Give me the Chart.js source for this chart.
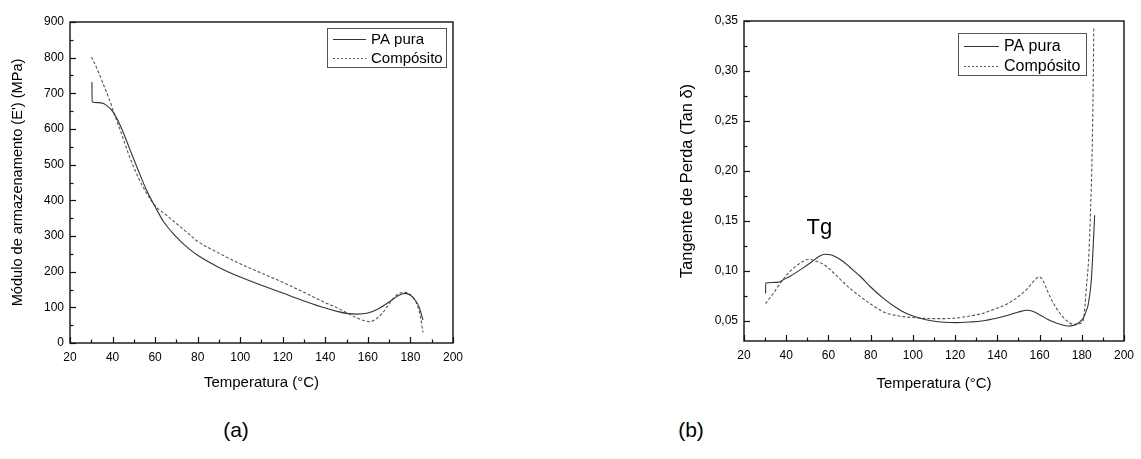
<!DOCTYPE html>
<html>
<head>
<meta charset="utf-8">
<script src="https://cdn.jsdelivr.net/npm/chart.js@4/dist/chart.umd.min.js"></script>
<style>
  html, body { margin: 0; padding: 0; background: #fff; width: 1141px; height: 459px; overflow: hidden; }
  .panel { position: absolute; top: 0; height: 400px; }
  #wrapA { left: 0; width: 470px; }
  #wrapB { left: 670px; width: 471px; }
  .tag { position: absolute; top: 418px; font: 21px "Liberation Sans", Arial, sans-serif; color: #000; transform: translateX(-50%); }
</style>
</head>
<body>
<div class="panel" id="wrapA"><canvas id="chartA" width="470" height="400"></canvas></div>
<div class="panel" id="wrapB"><canvas id="chartB" width="471" height="400"></canvas></div>
<div class="tag" style="left:236px">(a)</div>
<div class="tag" style="left:691px">(b)</div>
<script>
// ---- (a) Storage modulus E' (MPa) vs temperature (°C)
const tempA_pa = [30.3, 30.4, 33, 36, 38, 40.2, 44, 48, 52, 56, 60, 64, 68, 72, 76, 80, 90, 100, 110, 120, 130, 140, 146, 150, 155, 160, 165, 170, 174, 177.5, 180, 182, 184, 185.9];
const modA_pa  = [732, 676, 674, 671, 662, 648, 605, 545, 485, 428, 382, 340, 310, 285, 264, 246, 212, 185, 162, 140, 118, 98, 88, 83, 81, 84, 96, 115, 132, 139, 134, 122, 102, 65];
const tempA_comp = [30.1, 33, 35.5, 38.6, 40.2, 44, 48, 52, 56, 60, 65, 70, 75, 80, 90, 100, 110, 120, 130, 140, 145, 150, 155, 158, 161, 164, 167, 170, 173.5, 177.4, 180, 182.8, 184.5, 185.9];
const modA_comp  = [802, 765, 728, 681, 653, 590, 522, 465, 420, 385, 360, 335, 310, 285, 252, 222, 196, 170, 142, 113, 100, 85, 70, 63, 60, 68, 85, 110, 134, 142, 135, 112, 80, 30];

// ---- (b) Loss tangent (tan δ) vs temperature (°C)
const tempB_pa = [30.2, 30.3, 33, 36.7, 38.2, 42, 47.5, 52, 55.5, 58.3, 61, 64, 67, 70, 75.4, 80, 86.2, 92, 97, 103, 109.5, 115, 120.3, 127, 132.7, 140, 145, 150, 154.3, 157, 160.5, 164, 166.7, 171.3, 173.7, 176, 179.1, 181, 182.2, 183, 184.5, 185.3, 186.1];
const tanB_pa  = [0.0775, 0.088, 0.0885, 0.089, 0.0907, 0.095, 0.1024, 0.109, 0.1145, 0.1168, 0.1162, 0.1135, 0.1095, 0.104, 0.094, 0.084, 0.0724, 0.0635, 0.0574, 0.053, 0.050, 0.0488, 0.0484, 0.049, 0.050, 0.053, 0.0557, 0.059, 0.0607, 0.0595, 0.0557, 0.0515, 0.049, 0.0457, 0.045, 0.0455, 0.049, 0.054, 0.0607, 0.066, 0.09, 0.12, 0.1557];
const tempB_comp = [30.2, 34, 38.2, 43, 47.5, 50.6, 54, 58.4, 62, 66.1, 70, 75.4, 80, 86.2, 92, 97, 103, 109.5, 115, 120.3, 127, 132.7, 140, 145, 150, 154.3, 157.5, 159.8, 161.5, 163.6, 166.5, 169.8, 173, 176, 178.5, 180.7, 181.5, 182.2, 183.2, 184, 184.9, 185.4, 185.7];
const tanB_comp  = [0.0674, 0.078, 0.0907, 0.102, 0.109, 0.1117, 0.110, 0.1057, 0.099, 0.0907, 0.083, 0.074, 0.067, 0.059, 0.0555, 0.054, 0.053, 0.0524, 0.0524, 0.053, 0.055, 0.0574, 0.063, 0.0674, 0.0745, 0.0824, 0.0905, 0.094, 0.091, 0.0807, 0.068, 0.0574, 0.050, 0.0467, 0.047, 0.0507, 0.065, 0.084, 0.11, 0.1507, 0.217, 0.284, 0.344];

// ---- Axis ticks
const xTicks  = [20, 40, 60, 80, 100, 120, 140, 160, 180, 200];
const yTicksA = [0, 100, 200, 300, 400, 500, 600, 700, 800, 900];
const yTicksB = [0.05, 0.10, 0.15, 0.20, 0.25, 0.30, 0.35];

const seriesNames = ['PA pura', 'Compósito'];

Chart.defaults.font.family = '"Liberation Sans", Arial, sans-serif';
Chart.defaults.color = '#000';

const pts = (xs, ys) => xs.map((x, i) => ({ x, y: ys[i] }));
const midpoints = arr => arr.slice(1).map((v, i) => (v + arr[i]) / 2);

// Box around the plot area plus inward major/minor ticks (Origin style)
const framePlugin = {
  id: 'frame',
  afterDraw(chart) {
    const { ctx, chartArea: a, scales } = chart;
    ctx.save();
    ctx.strokeStyle = '#111';
    ctx.lineWidth = 1.4;
    ctx.strokeRect(a.left, a.top, a.right - a.left, a.bottom - a.top);
    ctx.lineWidth = 1.2;
    const drawX = (vals, len) => vals.forEach(v => {
      if (v < scales.x.min || v > scales.x.max) return;
      const px = Math.round(scales.x.getPixelForValue(v)) + 0.5;
      ctx.beginPath(); ctx.moveTo(px, a.bottom); ctx.lineTo(px, a.bottom - len); ctx.stroke();
    });
    const drawY = (vals, len) => vals.forEach(v => {
      if (v < scales.y.min || v > scales.y.max) return;
      const py = Math.round(scales.y.getPixelForValue(v)) + 0.5;
      ctx.beginPath(); ctx.moveTo(a.left, py); ctx.lineTo(a.left + len, py); ctx.stroke();
    });
    const xt = scales.x.ticks.map(t => t.value);
    const yt = scales.y.ticks.map(t => t.value);
    drawX(xt, 6); drawX(midpoints(xt), 3.5);
    drawY(yt, 6); drawY(midpoints(yt), 3.5);
    ctx.restore();
  }
};

// Boxed legend placed inside the plot area, top right
const boxLegendPlugin = {
  id: 'boxLegend',
  afterDraw(chart, args, opts) {
    const { ctx, chartArea: a } = chart;
    const x = a.right - opts.right - opts.width;
    const y = a.top + opts.top;
    ctx.save();
    ctx.strokeStyle = '#555';
    ctx.lineWidth = 1;
    ctx.strokeRect(Math.round(x) + 0.5, Math.round(y) + 0.5, opts.width, opts.height);
    ctx.font = opts.fontSize + 'px "Liberation Sans", Arial, sans-serif';
    ctx.textBaseline = 'middle';
    ctx.fillStyle = '#000';
    chart.data.datasets.forEach((ds, i) => {
      const cy = Math.round(y + opts.firstRow + i * opts.rowGap) + 0.5;
      ctx.strokeStyle = ds.borderColor;
      ctx.lineWidth = 1;
      ctx.setLineDash(i === 0 ? [] : [2, 2]);
      ctx.beginPath();
      ctx.moveTo(x + opts.lineStart, cy);
      ctx.lineTo(x + opts.lineStart + opts.lineLen, cy);
      ctx.stroke();
      ctx.setLineDash([]);
      ctx.fillText(ds.label, x + opts.textStart, cy);
    });
    ctx.restore();
  }
};

// Text annotation anchored at a data coordinate
const notePlugin = {
  id: 'note',
  afterDraw(chart, args, opts) {
    if (!opts.text) return;
    const { ctx, scales } = chart;
    ctx.save();
    ctx.font = opts.fontSize + 'px "Liberation Sans", Arial, sans-serif';
    ctx.fillStyle = '#000';
    ctx.textAlign = 'center';
    ctx.textBaseline = 'alphabetic';
    ctx.fillText(opts.text, scales.x.getPixelForValue(opts.x), scales.y.getPixelForValue(opts.y));
    ctx.restore();
  }
};

function makeChart(id, cfg) {
  const lineStyle = (dash) => ({
    showLine: true, pointRadius: 0, borderWidth: 1.1, fill: false,
    cubicInterpolationMode: 'monotone', borderDash: dash
  });
  return new Chart(document.getElementById(id), {
    type: 'scatter',
    data: {
      datasets: [
        Object.assign({ label: seriesNames[0], data: cfg.pa, borderColor: '#333' }, lineStyle([])),
        Object.assign({ label: seriesNames[1], data: cfg.comp, borderColor: '#555' }, lineStyle([3, 2]))
      ]
    },
    options: {
      responsive: false,
      animation: false,
      layout: { autoPadding: false, padding: cfg.padding },
      plugins: {
        legend: { display: false },
        tooltip: { enabled: false },
        boxLegend: cfg.legend,
        note: cfg.note || {}
      },
      scales: {
        x: {
          type: 'linear', min: 20, max: 200,
          afterBuildTicks: s => { s.ticks = xTicks.map(v => ({ value: v })); },
          afterFit: s => { s.height = cfg.xHeight; },
          grid: { display: false, drawTicks: false },
          border: { display: false },
          ticks: { padding: 7, font: { size: 12 }, maxRotation: 0, autoSkip: false },
          title: { display: true, text: 'Temperatura (°C)', font: { size: 15 }, padding: { top: 0, bottom: cfg.xTitlePad } }
        },
        y: {
          type: 'linear', min: cfg.yMin, max: cfg.yMax,
          afterBuildTicks: s => { s.ticks = cfg.yTicks.map(v => ({ value: v })); },
          afterFit: s => { s.width = cfg.yWidth; },
          grid: { display: false, drawTicks: false },
          border: { display: false },
          ticks: { padding: 6, font: { size: 12 }, autoSkip: false, callback: cfg.yFormat },
          title: { display: true, text: cfg.yTitle, font: { size: cfg.yTitleSize }, padding: { top: cfg.yTitlePad, bottom: 0 } }
        }
      }
    },
    plugins: [framePlugin, boxLegendPlugin, notePlugin]
  });
}

makeChart('chartA', {
  pa: pts(tempA_pa, modA_pa),
  comp: pts(tempA_comp, modA_comp),
  padding: { left: 0, right: 13, top: 22, bottom: 0 },
  xHeight: 57, yWidth: 70, xTitlePad: 8, yTitlePad: 9.3, yTitleSize: 14.6,
  yMin: 0, yMax: 900, yTicks: yTicksA,
  yFormat: v => String(v),
  yTitle: "Módulo de armazenamento (E') (MPa)",
  legend: { right: 7, top: 6, width: 119, height: 39, fontSize: 15, firstRow: 11, rowGap: 19, lineStart: 6, lineLen: 33, textStart: 44 }
});

makeChart('chartB', {
  pa: pts(tempB_pa, tanB_pa),
  comp: pts(tempB_comp, tanB_comp),
  padding: { left: 0, right: 9, top: 21, bottom: 0 },
  xHeight: 59, yWidth: 74, xTitlePad: 7, yTitlePad: 7.4, yTitleSize: 16.4,
  yMin: 0.03, yMax: 0.35, yTicks: yTicksB,
  yFormat: v => v.toFixed(2).replace('.', ','),
  yTitle: 'Tangente de Perda (Tan δ)',
  legend: { right: 38, top: 12, width: 128, height: 42, fontSize: 16, firstRow: 13, rowGap: 20, lineStart: 6, lineLen: 35, textStart: 46 },
  note: { text: 'Tg', x: 55.7, y: 0.1374, fontSize: 22 }
});
</script>
</body>
</html>
